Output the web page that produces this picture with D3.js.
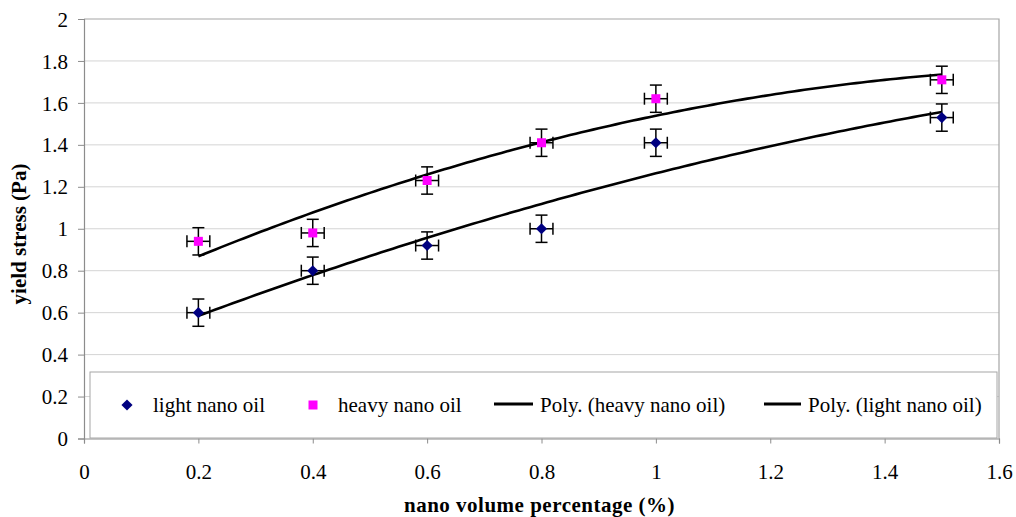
<!DOCTYPE html>
<html>
<head>
<meta charset="utf-8">
<script src="https://cdn.jsdelivr.net/npm/d3@7"></script>
<style>
  body { margin: 0; background: #fff; }
  svg text { font-family: "Liberation Serif", "Times New Roman", serif; }
</style>
</head>
<body>
<div id="chart"></div>
<script>
// data
const volume = [0.2, 0.4, 0.6, 0.8, 1.0, 1.5];
const lightOil = [0.6, 0.8, 0.92, 1.0, 1.41, 1.53];
const heavyOil = [0.94, 0.98, 1.23, 1.41, 1.62, 1.71];
const xErr = 0.02;
const yErr = 0.065;
const xTicks = [0, 0.2, 0.4, 0.6, 0.8, 1, 1.2, 1.4, 1.6];
const yTicks = [0, 0.2, 0.4, 0.6, 0.8, 1, 1.2, 1.4, 1.6, 1.8, 2];

const W = 1016, H = 517;
const plot = { left: 84, right: 999, top: 19, bottom: 438.5 };

const svg = d3.select('#chart').append('svg')
  .attr('width', W).attr('height', H);

const x = d3.scaleLinear().domain([0, 1.6]).range([plot.left, plot.right]);
const y = d3.scaleLinear().domain([0, 2]).range([plot.bottom, plot.top]);

// 2nd order least squares, same as the Excel "Poly." trendline
function polyFit(xs, ys) {
  const s = k => d3.sum(xs, v => Math.pow(v, k));
  const t = k => d3.sum(xs, (v, i) => Math.pow(v, k) * ys[i]);
  const A = [[s(0), s(1), s(2), t(0)], [s(1), s(2), s(3), t(1)], [s(2), s(3), s(4), t(2)]];
  for (let i = 0; i < 3; i++) {
    for (let j = i + 1; j < 3; j++) {
      const f = A[j][i] / A[i][i];
      for (let k = i; k < 4; k++) A[j][k] -= f * A[i][k];
    }
  }
  const c = [0, 0, 0];
  for (let i = 2; i >= 0; i--) {
    let v = A[i][3];
    for (let k = i + 1; k < 3; k++) v -= A[i][k] * c[k];
    c[i] = v / A[i][i];
  }
  return v => c[0] + c[1] * v + c[2] * v * v;
}

// gridlines
svg.append('g')
  .selectAll('line')
  .data(yTicks.filter(d => d > 0 && d < 2))
  .join('line')
  .attr('x1', plot.left).attr('x2', plot.right)
  .attr('y1', d => y(d)).attr('y2', d => y(d))
  .attr('stroke', '#d4d4d4').attr('stroke-width', 1);

// plot border (top/right)
svg.append('path')
  .attr('d', `M${plot.left},${plot.top}H${plot.right}V${plot.bottom}`)
  .attr('fill', 'none').attr('stroke', '#a6a6a6').attr('stroke-width', 1.2);

// axes
const xAxis = d3.axisBottom(x).tickValues(xTicks).tickSize(5).tickFormat(d3.format('~g'));
const yAxis = d3.axisLeft(y).tickValues(yTicks).tickSize(6).tickFormat(d3.format('~g'));

const gx = svg.append('g').attr('transform', `translate(0,${plot.bottom})`).call(xAxis);
const gy = svg.append('g').attr('transform', `translate(${plot.left},0)`).call(yAxis);
[gx, gy].forEach(g => {
  g.attr('font-family', null).attr('font-size', null);
  g.select('.domain').attr('stroke', '#8c8c8c').attr('stroke-width', 1.2);
  g.selectAll('.tick line').attr('stroke', '#8c8c8c');
  g.selectAll('.tick text')
    .attr('fill', '#000')
    .style('font-size', '21px');
});
gx.selectAll('.tick text').attr('dy', null).attr('y', 40);
gy.selectAll('.tick text').attr('x', -16).attr('dy', '0.34em');

// axis titles
svg.append('text')
  .attr('x', (plot.left + plot.right) / 2 - 2).attr('y', 512)
  .attr('text-anchor', 'middle')
  .style('font-size', '21px').style('font-weight', 'bold').style('letter-spacing', '0.5px')
  .text('nano volume percentage (%)');

svg.append('text')
  .attr('transform', `translate(26,234) rotate(-90)`)
  .attr('text-anchor', 'middle')
  .style('font-size', '21px').style('font-weight', 'bold')
  .text('yield stress (Pa)');

// trendlines
const line = d3.line().x(d => x(d[0])).y(d => y(d[1]));
const span = d3.range(0, 131).map(i => volume[0] + i * (volume[volume.length - 1] - volume[0]) / 130);
[heavyOil, lightOil].forEach(vals => {
  const fit = polyFit(volume, vals);
  svg.append('path')
    .attr('d', line(span.map(v => [v, fit(v)])))
    .attr('fill', 'none').attr('stroke', '#000').attr('stroke-width', 2.6);
});

// error bars + markers (Excel diamond = square turned 45deg)
const series = [
  { name: 'light nano oil', vals: lightOil, color: '#000080', shape: d3.symbolSquare, size: 62, rot: 45 },
  { name: 'heavy nano oil', vals: heavyOil, color: '#ff00ff', shape: d3.symbolSquare, size: 81, rot: 0 }
];

series.forEach(s => {
  const pts = volume.map((v, i) => ({ x: v, y: s.vals[i] }));
  const g = svg.append('g');
  const eb = g.selectAll('g.eb').data(pts).join('g').attr('class', 'eb')
    .attr('stroke', '#000').attr('stroke-width', 1.5);
  eb.append('line')
    .attr('x1', d => x(d.x)).attr('x2', d => x(d.x))
    .attr('y1', d => y(d.y - yErr)).attr('y2', d => y(d.y + yErr));
  eb.append('line')
    .attr('x1', d => x(d.x - xErr)).attr('x2', d => x(d.x + xErr))
    .attr('y1', d => y(d.y)).attr('y2', d => y(d.y));
  eb.append('line')
    .attr('x1', d => x(d.x) - 6).attr('x2', d => x(d.x) + 6)
    .attr('y1', d => y(d.y - yErr)).attr('y2', d => y(d.y - yErr));
  eb.append('line')
    .attr('x1', d => x(d.x) - 6).attr('x2', d => x(d.x) + 6)
    .attr('y1', d => y(d.y + yErr)).attr('y2', d => y(d.y + yErr));
  eb.append('line')
    .attr('x1', d => x(d.x - xErr)).attr('x2', d => x(d.x - xErr))
    .attr('y1', d => y(d.y) - 6).attr('y2', d => y(d.y) + 6);
  eb.append('line')
    .attr('x1', d => x(d.x + xErr)).attr('x2', d => x(d.x + xErr))
    .attr('y1', d => y(d.y) - 6).attr('y2', d => y(d.y) + 6);
  g.selectAll('path.mk').data(pts).join('path').attr('class', 'mk')
    .attr('transform', d => `translate(${x(d.x)},${y(d.y)}) rotate(${s.rot})`)
    .attr('d', d3.symbol(s.shape, s.size))
    .attr('fill', s.color);
});

// legend
const lg = svg.append('g');
lg.append('rect')
  .attr('x', 90).attr('y', 372).attr('width', 907).attr('height', 66)
  .attr('fill', '#fff').attr('stroke', '#a6a6a6').attr('stroke-width', 1);
const ly = 405;
const legendItems = [
  { type: 'sym', s: series[0], x: 127, tx: 153 },
  { type: 'sym', s: series[1], x: 313, tx: 338 },
  { type: 'line', name: 'Poly. (heavy nano oil)', x0: 494, x1: 533, tx: 540 },
  { type: 'line', name: 'Poly. (light nano oil)', x0: 764, x1: 801, tx: 808 }
];
legendItems.forEach(it => {
  if (it.type === 'sym') {
    lg.append('path')
      .attr('transform', `translate(${it.x},${ly}) rotate(${it.s.rot})`)
      .attr('d', d3.symbol(it.s.shape, it.s.size))
      .attr('fill', it.s.color);
  } else {
    lg.append('line')
      .attr('x1', it.x0).attr('x2', it.x1).attr('y1', ly - 1).attr('y2', ly - 1)
      .attr('stroke', '#000').attr('stroke-width', 3);
  }
  lg.append('text')
    .attr('x', it.tx).attr('y', ly).attr('dy', '0.34em')
    .style('font-size', '21px')
    .text(it.type === 'sym' ? it.s.name : it.name);
});
</script>
</body>
</html>
